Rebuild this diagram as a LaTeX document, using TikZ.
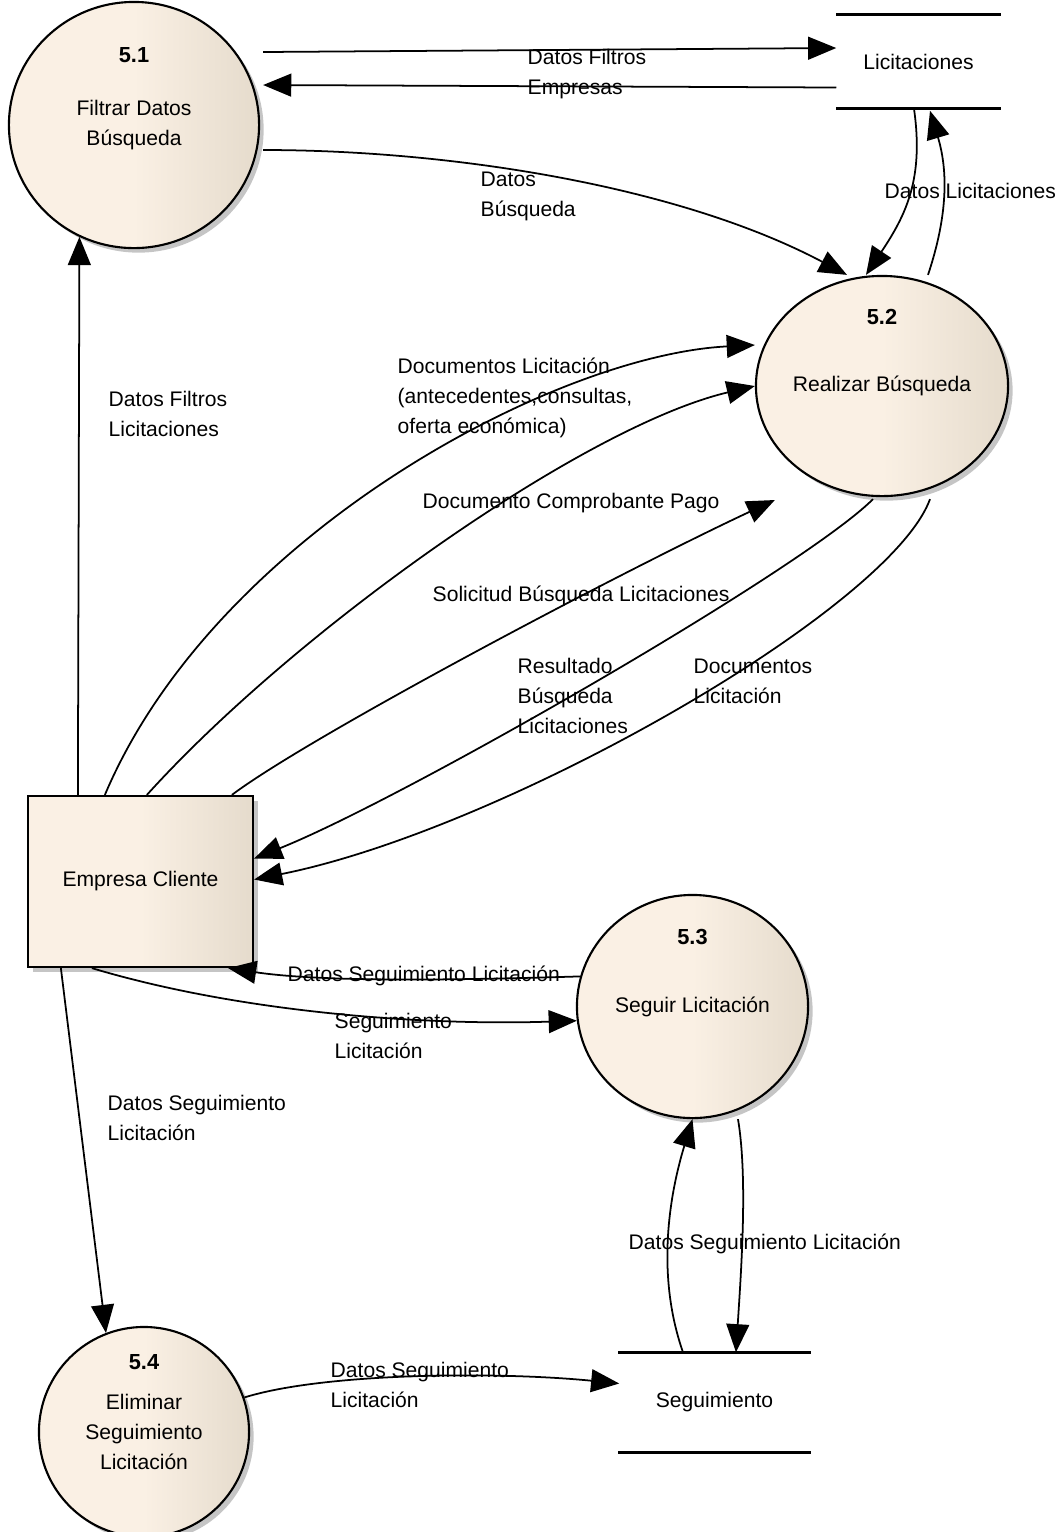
\documentclass[tikz,border=0pt]{standalone}
\usepackage{fontspec}
\setmainfont{Liberation Sans}
\usetikzlibrary{arrows.meta,shapes.geometric,shadows}
\definecolor{crema}{RGB}{250,240,228}
\definecolor{cremaosc}{RGB}{229,219,204}
\begin{document}
\begin{tikzpicture}[x=0.01cm,y=-0.01cm,
    font=\fontsize{6}{8.5}\selectfont,
    >={Triangle[length=8pt,width=6.5pt]},
    flujo/.style={draw,line width=0.5pt,->},
    relleno/.style={left color=crema,right color=cremaosc,middle color=crema,
        drop shadow={shadow xshift=1.3pt,shadow yshift=-1.3pt,fill=black!45}},
    proceso/.style={ellipse,draw,line width=0.6pt,inner sep=0pt,align=center,relleno},
    entidad/.style={rectangle,draw,line width=0.6pt,inner sep=0pt,relleno},
    almacen/.style={rectangle,inner sep=0pt},
    borde/.style={line width=0.9pt},
    num/.style={inner sep=0pt,font=\fontsize{6.2}{7}\selectfont\bfseries},
    etiq/.style={anchor=west,align=left,inner sep=0pt}]%{{{
\useasboundingbox (0,0) rectangle (1064,1532);
%
% Procesos
\node [proceso,minimum width=2.5cm,minimum height=2.46cm] (p51) at (134,125) {\\[-4pt]Filtrar Datos\\Búsqueda};
\node [proceso,minimum width=2.5cm,minimum height=2.2cm] (p52) at (882,386) {Realizar Búsqueda};
\node [proceso,minimum width=2.31cm,minimum height=2.23cm] (p53) at (692.5,1006.5) {Seguir Licitación};
\node [proceso,minimum width=2.1cm,minimum height=2.1cm] (p54) at (144,1432) {Eliminar\\Seguimiento\\Licitación};
\node [num] (n51) at ([yshift=0.7cm]p51.center) {5.1};
\node [num] (n52) at ([yshift=0.69cm]p52.center) {5.2};
\node [num] (n53) at ([yshift=0.695cm]p53.center) {5.3};
\node [num] (n54) at ([yshift=0.7cm]p54.center) {5.4};
%
% Entidad externa
\node [entidad,minimum width=2.25cm,minimum height=1.71cm] (cliente) at (140.5,881.5) {Empresa Cliente};
%
% Almacenes
\node [almacen,minimum width=1.63cm,minimum height=0.93cm] (licit) at (918.5,61.5) {Licitaciones};
\node [almacen,minimum width=1.91cm,minimum height=0.99cm] (segui) at (714.5,1402.5) {Seguimiento};
\draw [borde] (licit.north west) -- (licit.north east);
\draw [borde] (licit.south west) -- (licit.south east);
\draw [borde] (segui.north west) -- (segui.north east);
\draw [borde] (segui.south west) -- (segui.south east);
%
% Flujos 5.1 / Licitaciones / 5.2
\draw [flujo] ([shift={(3,-73)}]p51.east) -- ([shift={(0,-13.5)}]licit.west);
\draw [flujo] ([shift={(0,26)}]licit.west) -- ([shift={(3,-40)}]p51.east);
\draw [flujo] ([shift={(3,25)}]p51.east) .. controls +(188,0) and +(-168,-89) .. ([shift={(-35,0)}]p52.north);
\draw [flujo] ([shift={(-4.5,0)}]licit.south) .. controls +(10,70) and +(40,-60) .. ([shift={(-16,0)}]p52.north);
\draw [flujo] ([shift={(46,0)}]p52.north) .. controls +(20,-60) and +(18,60) .. ([shift={(11.5,2)}]licit.south);
%
% Flujos Empresa Cliente / 5.1 / 5.2
\draw [flujo] ([shift={(51,0)}]cliente.north west) -- (p51.244);
\draw [flujo] ([shift={(78,0)}]cliente.north west) .. controls +(110,-260) and +(-200,10) .. ([shift={(0,-41)}]p52.west);
\draw [flujo] ([shift={(120,0)}]cliente.north west) .. controls +(150,-166) and +(-170,40) .. (p52.west);
\draw [flujo] ([shift={(205,0)}]cliente.north west) .. controls +(80,-60) and +(-150,70) .. ([shift={(20,114)}]p52.west);
\draw [flujo] ([shift={(-9,2)}]p52.south) .. controls +(-70,70) and +(150,-60) .. ([shift={(0,-23)}]cliente.east);
\draw [flujo] ([shift={(48,2)}]p52.south) .. controls +(-40,110) and +(250,-50) .. ([shift={(0,-2)}]cliente.east);
%
% Flujos Empresa Cliente / 5.3 / 5.4
\draw [flujo] (p53.165) .. controls +(-100,3) and +(100,15) .. ([shift={(-26,0)}]cliente.south east);
\draw [flujo] ([shift={(65,0)}]cliente.south west) .. controls +(150,45) and +(-150,5) .. (p53.187);
\draw [flujo] ([shift={(34,0)}]cliente.south west) -- (p54.111);
%
% Flujos Seguimiento
\draw [flujo] ([shift={(-31.5,0)}]segui.north) .. controls +(-28,-80) and +(-22,72) .. (p53.south);
\draw [flujo] ([shift={(45.5,0)}]p53.south) .. controls +(10,60) and +(5,-80) .. ([shift={(21.5,0)}]segui.north);
\draw [flujo] (p54.19) .. controls +(80,-25) and +(-120,-12) .. ([shift={(1,-19)}]segui.west);
%
% Etiquetas
\node [etiq] (eFiltrosEmp) at (527,74) {Datos Filtros\\Empresas};
\node [etiq] (eDatosBusq) at (480,196) {Datos\\Búsqueda};
\node [etiq] (eDatosLicit) at (884,191) {Datos Licitaciones};
\node [etiq] (eFiltrosLicit) at (108,414) {Datos Filtros\\Licitaciones};
\node [etiq] (eDocLicit) at (397,398) {Documentos Licitación\\(antecedentes,consultas,\\oferta económica)};
\node [etiq] (eComprobante) at (422,503) {Documento Comprobante Pago};
\node [etiq] (eSolicitud) at (432,596) {Solicitud Búsqueda Licitaciones};
\node [etiq] (eResultado) at (517,696) {Resultado\\Búsqueda\\Licitaciones};
\node [etiq] (eDocumentos) at (693,681) {Documentos\\Licitación};
\node [etiq] (eSegCliente) at (287,976) {Datos Seguimiento Licitación};
\node [etiq] (eSeguir) at (334,1036) {Seguimiento\\Licitación};
\node [etiq] (eEliminar) at (107,1118) {Datos Seguimiento\\Licitación};
\node [etiq] (eSegAlmacen) at (628,1244) {Datos Seguimiento Licitación};
\node [etiq] (eSegBorrar) at (330,1385) {Datos Seguimiento\\Licitación};
%
\end{tikzpicture}
\end{document}
